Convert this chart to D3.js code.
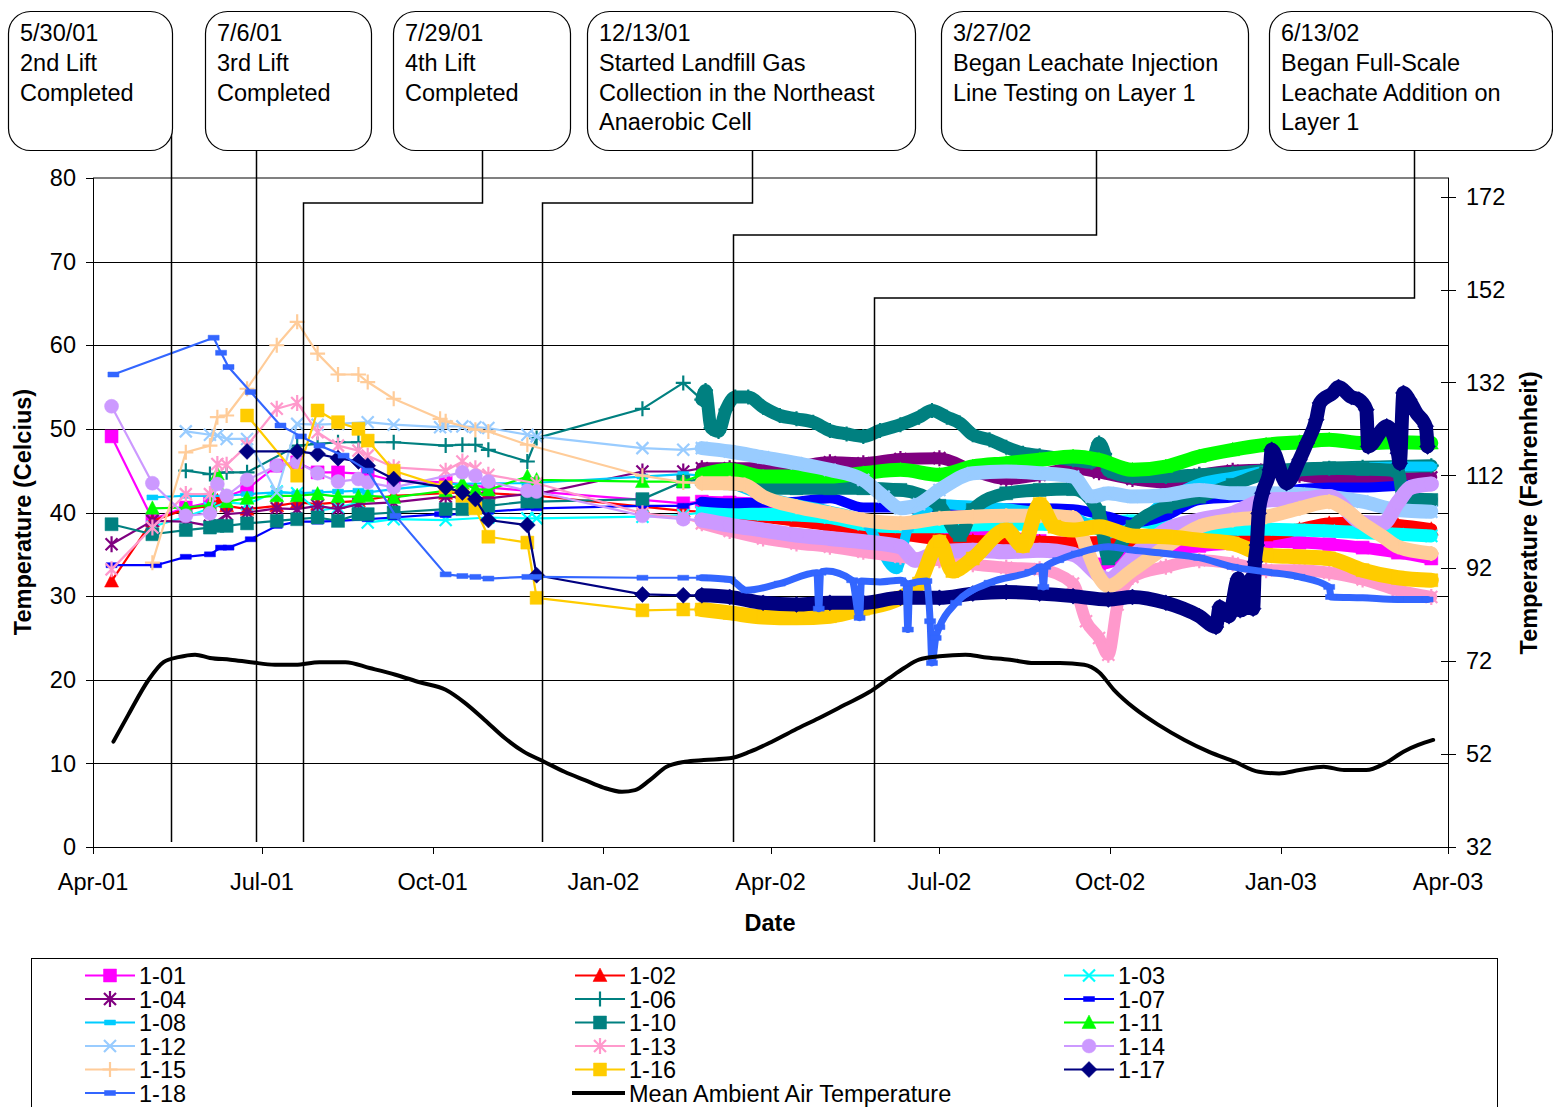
<!DOCTYPE html>
<html><head><meta charset="utf-8">
<script src="https://cdn.jsdelivr.net/npm/d3@7"></script>
<style>
body{margin:0;background:#fff;}
svg{display:block;font-family:"Liberation Sans",Arial,sans-serif;}
</style></head><body>
<svg id="chart" width="1553" height="1107"></svg>
<script>
// ---------------- DATA ----------------
const seriesNames = ["1-01","1-02","1-03","1-04","1-06","1-07","1-08","1-10","1-11","1-12","1-13","1-14","1-15","1-16","1-17","1-18"];
const ambientName = "Mean Ambient Air Temperature";
const xTickLabels = ["2001-04-01","2001-07-01","2001-10-01","2002-01-01","2002-04-01","2002-07-01","2002-10-01","2003-01-01","2003-04-01"];
const yTicksC = [0,10,20,30,40,50,60,70,80];
const yTicksF = [32,52,72,92,112,132,152,172];

const s101 = [["2001-04-11",49.1],["2001-05-03",39.2],["2001-05-21",40.6],["2001-06-03",41.2],["2001-06-23",42.8],["2001-07-09",45.6],["2001-07-20",46.0],["2001-07-31",44.8],["2001-08-11",44.8],["2001-08-27",44.6],["2001-09-10",43.8],["2001-10-08",43.6],["2001-10-31",43.0],["2001-11-26",42.5],["2002-01-22",41.5],["2002-02-13",41.1],
["2002-02-23",41.3],["2002-03-10",41.2],["2002-03-28",41.0],["2002-04-15",40.2],["2002-05-03",39.2],["2002-05-21",38.6],["2002-06-10",38.2],["2002-07-01",37.8],["2002-07-19",37.4],["2002-08-06",37.0],["2002-08-24",36.6],["2002-09-11",35.2],["2002-09-25",33.8],["2002-10-13",35.0],["2002-10-31",35.5],["2002-11-18",36.0],["2002-12-06",36.3],["2002-12-24",36.5],["2003-01-11",36.4],["2003-01-27",36.2],["2003-02-14",35.8],["2003-03-05",35.2],["2003-03-23",34.5]];
const s102 = [["2001-04-11",31.8],["2001-05-03",39.0],["2001-05-21",40.4],["2001-06-03",40.8],["2001-06-07",41.4],["2001-06-12",40.8],["2001-06-23",40.4],["2001-07-09",40.8],["2001-07-20",41.2],["2001-07-31",41.0],["2001-08-11",41.2],["2001-08-22",41.4],["2001-09-10",42.0],["2001-10-08",42.3],["2001-10-17",42.4],["2001-10-31",42.3],["2001-11-26",42.0],["2002-01-22",40.7],["2002-02-13",40.2],
["2002-02-23",40.1],["2002-03-10",39.8],["2002-03-28",39.5],["2002-04-15",39.0],["2002-05-03",38.5],["2002-05-21",38.0],["2002-06-10",37.4],["2002-07-01",36.8],["2002-07-19",36.6],["2002-08-06",36.5],["2002-08-24",36.5],["2002-09-11",36.4],["2002-09-30",36.5],["2002-10-31",36.8],["2002-11-18",37.0],["2002-12-06",37.2],["2002-12-24",37.3],["2003-01-11",38.0],["2003-01-27",38.7],["2003-02-14",38.8],["2003-03-05",38.5],["2003-03-23",38.0]];
const s103 = [["2001-05-03",38.3],["2001-05-21",39.5],["2001-06-03",40.5],["2001-06-12",41.2],["2001-06-23",41.0],["2001-07-09",42.5],["2001-07-20",42.3],["2001-07-31",40.2],["2001-08-11",40.6],["2001-08-22",41.2],["2001-08-27",38.8],["2001-09-10",39.2],["2001-10-08",39.1],["2001-10-31",39.4],["2001-11-21",39.3],["2001-11-26",39.3],["2002-01-22",39.5],["2002-02-13",39.7],
["2002-02-23",40.0],["2002-03-10",40.0],["2002-03-28",39.8],["2002-04-15",39.7],["2002-05-03",39.4],["2002-05-21",38.6],["2002-06-10",38.3],["2002-07-01",38.3],["2002-07-19",38.5],["2002-08-06",38.6],["2002-08-24",38.6],["2002-09-11",38.5],["2002-09-30",38.8],["2002-10-13",39.0],["2002-10-31",38.5],["2002-11-18",38.2],["2002-12-06",38.0],["2002-12-24",38.0],["2003-01-11",37.9],["2003-01-27",37.8],["2003-02-14",37.6],["2003-03-05",37.4],["2003-03-23",37.2]];
const s104 = [["2001-04-11",36.2],["2001-05-03",39.0],["2001-05-21",38.9],["2001-06-03",38.4],["2001-06-12",39.8],["2001-06-23",40.0],["2001-07-09",40.5],["2001-07-20",40.4],["2001-07-31",40.8],["2001-08-11",40.4],["2001-08-22",41.0],["2001-09-10",41.2],["2001-10-08",41.9],["2001-10-31",41.7],["2001-11-21",42.2],["2001-11-26",42.2],["2002-01-22",44.9],["2002-02-13",44.9],
["2002-02-23",45.3],["2002-03-10",45.3],["2002-03-28",45.3],["2002-04-15",45.5],["2002-05-03",46.0],["2002-05-21",45.9],["2002-06-10",46.4],["2002-07-01",46.5],["2002-07-19",45.0],["2002-08-06",44.0],["2002-08-24",44.5],["2002-09-11",45.3],["2002-09-25",44.8],["2002-10-13",44.0],["2002-10-31",43.6],["2002-11-18",44.5],["2002-12-06",45.0],["2002-12-24",45.1],["2003-01-11",44.5],["2003-01-27",44.0],["2003-02-14",43.8],["2003-03-05",44.0],["2003-03-23",44.2]];
const s106 = [["2001-05-21",45.0],["2001-06-03",44.6],["2001-06-12",44.8],["2001-06-23",44.8],["2001-07-20",48.0],["2001-07-31",48.2],["2001-08-11",48.4],["2001-08-22",48.4],["2001-09-10",48.4],["2001-10-08",48.0],["2001-10-17",48.1],["2001-10-24",48.1],["2001-10-31",47.5],["2001-11-21",46.1],["2001-11-26",48.9],["2002-01-22",52.4],["2002-02-13",55.5],
["2002-02-23",53.5],["2002-02-25",54.6],["2002-02-28",50.1],["2002-03-04",49.7],["2002-03-08",52.3],["2002-03-13",53.8],["2002-03-20",53.8],["2002-03-28",52.6],["2002-04-06",51.6],["2002-04-15",51.2],["2002-04-24",50.8],["2002-05-03",49.8],["2002-05-12",49.4],["2002-05-21",49.1],["2002-05-30",49.8],["2002-06-10",50.5],["2002-06-20",51.4],["2002-06-27",52.2],["2002-07-05",51.4],["2002-07-12",50.7],["2002-07-19",49.3],["2002-07-28",48.7],["2002-08-06",47.8],["2002-08-15",47.1],["2002-08-24",46.8],["2002-09-11",46.3],["2002-09-21",46.0],["2002-09-25",48.3],["2002-09-28",47.0],["2002-09-30",45.0],["2002-10-13",44.3],["2002-10-31",44.3],["2002-11-18",44.5],["2002-12-06",44.7],["2002-12-24",45.0],["2003-01-11",45.1],["2003-01-27",45.3],["2003-02-14",45.4],["2003-03-05",45.5],["2003-03-23",45.6]];
const s107 = [["2001-04-11",33.7],["2001-05-05",33.7],["2001-05-21",34.7],["2001-06-03",35.0],["2001-06-09",35.8],["2001-06-13",35.8],["2001-06-25",36.8],["2001-07-09",38.4],["2001-07-20",38.9],["2001-07-31",38.9],["2001-08-11",39.0],["2001-08-27",39.2],["2001-09-10",39.4],["2001-10-05",39.8],["2001-10-08",39.7],["2001-10-31",40.1],["2001-11-26",40.5],["2002-01-22",40.8],["2002-02-13",40.8],
["2002-02-23",41.3],["2002-03-10",41.1],["2002-03-28",41.2],["2002-04-15",41.3],["2002-05-03",41.7],["2002-05-21",40.6],["2002-06-10",40.6],["2002-07-01",40.7],["2002-07-19",40.5],["2002-08-06",40.5],["2002-08-24",40.5],["2002-09-11",40.4],["2002-09-30",39.5],["2002-10-13",38.8],["2002-10-31",39.6],["2002-11-18",41.5],["2002-12-06",41.8],["2002-12-24",42.2],["2003-01-11",42.8],["2003-01-27",43.0],["2003-02-14",43.0],["2003-03-05",43.2],["2003-03-23",43.5]];
const s108 = [["2001-05-03",41.8],["2001-05-21",42.0],["2001-06-03",42.0],["2001-06-12",42.0],["2001-06-23",42.2],["2001-07-09",42.4],["2001-07-20",42.3],["2001-07-31",42.4],["2001-08-11",42.5],["2001-08-22",42.6],["2001-08-27",42.4],["2001-09-10",42.8],["2001-10-08",43.4],["2001-10-31",43.5],["2001-11-21",43.5],["2002-01-22",44.3],["2002-02-13",44.6],
["2002-02-23",44.4],["2002-03-10",43.5],["2002-03-28",42.0],["2002-04-15",41.0],["2002-05-03",40.2],["2002-05-21",39.0],["2002-06-08",33.2],["2002-06-14",38.0],["2002-07-01",41.0],["2002-07-19",40.8],["2002-08-06",40.5],["2002-08-24",40.0],["2002-09-11",39.5],["2002-09-30",37.5],["2002-10-13",38.3],["2002-10-31",41.5],["2002-11-18",43.5],["2002-12-06",44.3],["2002-12-24",45.0],["2003-01-11",45.2],["2003-01-27",45.3],["2003-02-14",45.4],["2003-03-05",45.5],["2003-03-23",45.5]];
const s110 = [["2001-04-11",38.6],["2001-05-03",37.4],["2001-05-21",37.9],["2001-06-03",38.2],["2001-06-07",38.4],["2001-06-12",38.4],["2001-06-23",38.7],["2001-07-09",39.0],["2001-07-20",39.2],["2001-07-31",39.4],["2001-08-11",39.0],["2001-08-22",39.8],["2001-08-27",39.8],["2001-09-10",40.0],["2001-10-08",40.4],["2001-10-17",40.4],["2001-10-31",40.8],["2001-11-21",41.3],["2001-11-26",41.3],["2002-01-22",41.6],["2002-02-13",43.7],
["2002-02-23",44.0],["2002-03-10",43.5],["2002-03-28",43.0],["2002-04-15",42.9],["2002-05-03",42.9],["2002-05-21",42.9],["2002-06-10",42.7],["2002-07-01",40.8],["2002-07-12",37.3],["2002-07-19",40.3],["2002-08-06",42.3],["2002-08-24",42.7],["2002-09-11",42.8],["2002-09-25",40.0],["2002-09-30",34.5],["2002-10-13",38.3],["2002-10-31",40.7],["2002-11-18",41.9],["2002-12-06",43.3],["2002-12-24",44.7],["2003-01-11",45.2],["2003-01-27",45.3],["2003-02-14",45.2],["2003-03-05",45.0],["2003-03-08",41.8],["2003-03-23",41.5]];
const s111 = [["2001-05-03",40.5],["2001-05-21",40.6],["2001-06-03",40.9],["2001-06-07",44.6],["2001-06-12",41.3],["2001-06-23",41.7],["2001-07-09",42.0],["2001-07-20",42.0],["2001-07-31",42.2],["2001-08-11",41.9],["2001-08-22",41.9],["2001-08-27",42.0],["2001-09-10",41.8],["2001-10-08",42.6],["2001-10-17",43.5],["2001-10-24",42.8],["2001-10-31",42.7],["2001-11-21",44.3],["2001-11-26",43.9],["2002-01-22",43.7],["2002-02-13",43.7],
["2002-02-23",44.5],["2002-03-10",45.1],["2002-03-28",44.3],["2002-04-15",44.3],["2002-05-03",44.3],["2002-05-21",44.7],["2002-06-10",45.1],["2002-07-01",44.5],["2002-07-19",45.5],["2002-08-06",45.9],["2002-08-24",46.3],["2002-09-11",46.7],["2002-09-25",46.3],["2002-10-13",45.1],["2002-10-31",45.5],["2002-11-18",46.7],["2002-12-06",47.5],["2002-12-24",48.1],["2003-01-11",48.4],["2003-01-27",48.7],["2003-02-14",48.3],["2003-03-05",48.4],["2003-03-23",48.3]];
const s112 = [["2001-05-21",49.7],["2001-06-03",49.3],["2001-06-07",49.2],["2001-06-12",48.8],["2001-06-23",48.8],["2001-07-09",42.4],["2001-07-20",50.6],["2001-07-31",50.5],["2001-08-11",50.6],["2001-08-27",50.8],["2001-09-10",50.5],["2001-10-05",50.2],["2001-10-08",50.3],["2001-10-17",50.3],["2001-10-24",50.2],["2001-10-31",50.1],["2001-11-21",49.3],["2001-11-26",49.1],["2002-01-22",47.7],["2002-02-13",47.5],
["2002-02-23",47.7],["2002-03-10",47.3],["2002-03-28",46.6],["2002-04-15",45.9],["2002-05-03",45.1],["2002-05-21",43.9],["2002-06-01",41.9],["2002-06-10",40.5],["2002-06-20",41.0],["2002-07-01",42.7],["2002-07-19",44.7],["2002-08-06",44.9],["2002-08-24",44.7],["2002-09-11",44.3],["2002-09-21",41.9],["2002-09-30",42.3],["2002-10-13",41.9],["2002-10-31",42.1],["2002-11-18",42.7],["2002-12-06",42.3],["2002-12-24",42.3],["2003-01-11",42.2],["2003-01-27",41.9],["2003-02-14",41.3],["2003-03-05",40.3],["2003-03-23",40.1]];
const s113 = [["2001-04-11",33.2],["2001-05-03",38.2],["2001-05-21",42.2],["2001-06-03",42.2],["2001-06-07",45.8],["2001-06-12",45.7],["2001-06-23",48.0],["2001-07-09",52.4],["2001-07-20",53.1],["2001-07-31",49.6],["2001-08-11",48.0],["2001-08-22",47.4],["2001-08-27",46.8],["2001-09-10",45.4],["2001-10-08",45.0],["2001-10-17",46.1],["2001-10-24",45.3],["2001-10-31",44.5],["2001-11-26",43.5],["2002-01-22",39.9],["2002-02-13",39.4],
["2002-02-23",38.7],["2002-03-10",37.8],["2002-03-28",36.9],["2002-04-15",36.3],["2002-05-03",35.9],["2002-05-21",35.3],["2002-06-10",34.7],["2002-07-01",34.3],["2002-07-19",33.8],["2002-08-06",33.4],["2002-08-24",33.2],["2002-09-11",31.5],["2002-09-18",27.0],["2002-09-25",25.0],["2002-09-30",23.0],["2002-10-05",29.0],["2002-10-13",32.3],["2002-10-31",33.5],["2002-11-18",34.3],["2002-12-06",33.9],["2002-12-24",33.1],["2003-01-11",33.1],["2003-01-27",32.8],["2003-02-14",32.0],["2003-03-05",30.7],["2003-03-23",29.9]];
const s114 = [["2001-04-11",52.7],["2001-05-03",43.5],["2001-05-21",39.6],["2001-06-03",39.9],["2001-06-07",43.4],["2001-06-12",42.0],["2001-06-23",43.9],["2001-07-09",45.6],["2001-07-20",46.0],["2001-07-31",44.7],["2001-08-11",43.7],["2001-08-22",44.0],["2001-08-27",43.6],["2001-09-10",43.0],["2001-10-17",44.8],["2001-10-24",44.4],["2001-10-31",43.7],["2001-11-21",42.6],["2001-11-26",42.5],["2002-01-22",39.6],["2002-02-13",39.2],
["2002-02-23",39.1],["2002-03-10",38.5],["2002-03-28",37.9],["2002-04-15",37.3],["2002-05-03",36.9],["2002-05-21",36.5],["2002-06-10",35.9],["2002-06-18",34.3],["2002-07-01",35.3],["2002-07-19",35.5],["2002-08-06",35.3],["2002-08-24",35.5],["2002-09-11",35.0],["2002-09-30",32.0],["2002-10-13",34.7],["2002-10-31",37.9],["2002-11-18",39.1],["2002-12-06",39.9],["2002-12-24",41.5],["2003-01-11",41.6],["2003-01-27",41.9],["2003-02-14",38.8],["2003-02-25",38.7],["2003-03-05",41.2],["2003-03-12",43.0],["2003-03-23",43.4]];
const s115 = [["2001-05-03",34.0],["2001-05-21",47.2],["2001-06-03",48.0],["2001-06-07",51.4],["2001-06-12",51.6],["2001-06-23",54.8],["2001-07-09",60.0],["2001-07-20",62.8],["2001-07-31",59.0],["2001-08-11",56.5],["2001-08-22",56.5],["2001-08-27",55.6],["2001-09-10",53.6],["2001-10-05",51.2],["2001-10-08",50.9],["2001-10-24",49.9],["2001-10-31",49.7],["2001-11-21",48.1],["2002-01-22",44.4],["2002-02-13",43.6],
["2002-02-23",43.5],["2002-03-10",43.5],["2002-03-18",43.3],["2002-03-28",41.9],["2002-04-15",40.7],["2002-05-03",39.9],["2002-05-21",39.1],["2002-06-10",38.7],["2002-07-01",39.3],["2002-07-19",39.5],["2002-08-06",39.6],["2002-08-24",39.6],["2002-09-11",39.4],["2002-09-18",35.9],["2002-09-25",32.3],["2002-09-30",31.2],["2002-10-13",33.1],["2002-10-31",35.9],["2002-11-18",38.3],["2002-12-06",39.1],["2002-12-24",39.5],["2003-01-11",40.5],["2003-01-27",41.3],["2003-02-05",40.3],["2003-02-14",38.7],["2003-02-25",37.1],["2003-03-05",35.9],["2003-03-23",35.1]];
const s116 = [["2001-06-23",51.6],["2001-07-20",44.4],["2001-07-31",52.2],["2001-08-11",50.8],["2001-08-22",50.0],["2001-08-27",48.6],["2001-09-10",45.0],["2001-10-08",43.0],["2001-10-17",42.0],["2001-10-24",40.5],["2001-10-31",37.1],["2001-11-21",36.4],["2001-11-26",29.8],["2002-01-22",28.3],["2002-02-13",28.4],
["2002-02-23",28.4],["2002-03-10",28.0],["2002-03-28",27.5],["2002-04-15",27.4],["2002-05-03",27.6],["2002-05-21",28.5],["2002-06-10",29.8],["2002-06-20",31.5],["2002-07-01",36.5],["2002-07-08",33.0],["2002-07-19",34.5],["2002-08-06",37.9],["2002-08-15",36.0],["2002-08-24",41.0],["2002-09-01",38.3],["2002-09-11",37.9],["2002-09-25",38.3],["2002-10-13",37.2],["2002-10-31",37.1],["2002-11-18",36.7],["2002-12-06",36.3],["2002-12-24",34.9],["2003-01-11",34.7],["2003-01-27",34.5],["2003-02-14",33.1],["2003-03-05",32.2],["2003-03-23",31.9]];
const s117 = [["2001-06-23",47.3],["2001-07-20",47.3],["2001-07-31",47.0],["2001-08-11",46.5],["2001-08-22",46.1],["2001-08-27",45.6],["2001-09-10",44.0],["2001-10-08",43.0],["2001-10-17",42.4],["2001-10-24",41.6],["2001-10-31",39.1],["2001-11-21",38.5],["2001-11-26",32.5],["2002-01-22",30.2],["2002-02-13",30.1],
["2002-02-23",30.1],["2002-03-10",29.9],["2002-03-28",29.2],["2002-04-15",29.0],["2002-05-03",29.2],["2002-05-21",29.2],["2002-06-10",29.8],["2002-07-01",29.8],["2002-07-19",30.3],["2002-08-06",30.5],["2002-08-24",30.3],["2002-09-11",30.0],["2002-09-30",29.6],["2002-10-13",29.9],["2002-10-31",29.2],["2002-11-18",27.6],["2002-11-27",26.3],["2002-11-29",28.7],["2002-12-04",27.6],["2002-12-09",32.1],["2002-12-10",28.3],["2002-12-15",29.3],["2002-12-16",32.1],["2002-12-17",28.5],["2002-12-18",34.1],["2002-12-19",36.1],["2002-12-20",39.9],["2002-12-22",42.3],["2002-12-26",45.1],["2002-12-27",47.5],["2003-01-04",43.5],["2003-01-11",46.3],["2003-01-15",48.3],["2003-01-20",51.1],["2003-01-22",53.1],["2003-01-29",54.3],["2003-02-01",55.0],["2003-02-08",53.8],["2003-02-12",53.5],["2003-02-16",52.3],["2003-02-17",47.9],["2003-02-27",50.3],["2003-03-05",47.1],["2003-03-06",45.9],["2003-03-08",54.3],["2003-03-11",53.5],["2003-03-15",51.9],["2003-03-20",50.3],["2003-03-21",47.9]];
const s118 = [["2001-04-12",56.5],["2001-06-05",60.9],["2001-06-09",59.1],["2001-06-13",57.4],["2001-06-25",54.4],["2001-07-11",50.4],["2001-07-22",49.1],["2001-08-01",48.0],["2001-08-14",46.8],["2001-08-27",45.0],["2001-09-11",39.6],["2001-10-08",32.6],["2001-10-17",32.4],["2001-10-24",32.3],["2001-10-31",32.1],["2001-11-21",32.3],["2001-11-26",32.3],["2002-01-22",32.2],["2002-02-13",32.2],
["2002-02-23",32.2],["2002-03-10",32.0],["2002-03-19",30.7],["2002-04-06",31.5],["2002-04-26",32.8],["2002-04-27",28.5],["2002-04-28",32.8],["2002-05-01",33.0],["2002-05-15",31.9],["2002-05-19",27.4],["2002-05-20",31.8],["2002-05-30",31.7],["2002-06-10",31.9],["2002-06-13",31.5],["2002-06-14",26.0],["2002-06-15",31.5],["2002-06-24",31.8],["2002-06-26",27.0],["2002-06-27",22.0],["2002-06-29",25.0],["2002-07-01",26.3],["2002-07-10",29.2],["2002-07-28",31.6],["2002-08-19",32.9],["2002-08-25",33.5],["2002-08-26",31.1],["2002-08-27",33.5],["2002-09-03",34.3],["2002-09-13",35.1],["2002-09-30",35.9],["2002-10-13",35.5],["2002-10-31",35.1],["2002-11-18",34.6],["2002-12-06",33.5],["2002-12-24",32.9],["2003-01-11",32.3],["2003-01-27",31.1],["2003-01-28",29.9],["2003-02-14",29.8],["2003-03-05",29.6],["2003-03-21",29.6]];
const ambient = [["2001-04-12",12.6],["2001-04-20",15.8],["2001-05-01",20.0],["2001-05-09",22.1],["2001-05-17",22.7],["2001-05-26",23.0],["2001-06-03",22.6],["2001-06-14",22.4],["2001-06-25",22.1],["2001-07-08",21.8],["2001-07-19",21.8],["2001-08-01",22.1],["2001-08-15",22.1],["2001-08-28",21.4],["2001-09-11",20.6],["2001-09-24",19.7],["2001-10-08",18.8],["2001-10-18",17.3],["2001-10-29",15.2],["2001-11-09",13.0],["2001-11-19",11.4],["2001-11-30",10.2],["2001-12-11",9.0],["2001-12-22",8.0],["2002-01-01",7.1],["2002-01-11",6.6],["2002-01-18",6.8],["2002-01-26",8.0],["2002-02-04",9.6],["2002-02-14",10.2],["2002-02-24",10.4],["2002-03-10",10.6],["2002-03-21",11.4],["2002-03-31",12.4],["2002-04-14",14.0],["2002-04-27",15.4],["2002-05-11",17.0],["2002-05-24",18.5],["2002-06-04",20.2],["2002-06-12",21.4],["2002-06-20",22.4],["2002-07-01",22.8],["2002-07-15",23.0],["2002-07-25",22.7],["2002-08-08",22.4],["2002-08-21",22.0],["2002-09-04",22.0],["2002-09-17",21.8],["2002-09-25",20.9],["2002-10-03",18.8],["2002-10-14",16.6],["2002-10-27",14.6],["2002-11-10",12.8],["2002-11-23",11.4],["2002-12-07",10.2],["2002-12-20",9.0],["2002-12-31",8.8],["2003-01-11",9.2],["2003-01-24",9.6],["2003-02-04",9.2],["2003-02-16",9.2],["2003-02-26",10.0],["2003-03-08",11.4],["2003-03-16",12.2],["2003-03-24",12.8]];

const annotationText = [
  ["5/30/01","2nd Lift","Completed"],
  ["7/6/01","3rd Lift","Completed"],
  ["7/29/01","4th Lift","Completed"],
  ["12/13/01","Started Landfill Gas","Collection in the Northeast","Anaerobic Cell"],
  ["3/27/02","Began Leachate Injection","Line Testing on Layer 1"],
  ["6/13/02","Began Full-Scale","Leachate Addition on","Layer 1"]
];
// date where each leader line reaches the axis, as drawn in the figure
const annotationLineDates = ["2001-05-13","2001-06-28","2001-07-23","2001-11-29","2002-03-12","2002-05-27"];

// ---------------- STYLE / LAYOUT ----------------
const seriesData = [s101,s102,s103,s104,s106,s107,s108,s110,s111,s112,s113,s114,s115,s116,s117,s118];
const seriesColors = ["#FF00FF","#FF0000","#00FFFF","#800080","#008080","#0000FF","#00CCFF","#008080","#00FF00","#99CCFF","#FF99CC","#CC99FF","#FFCC99","#FFCC00","#000080","#3366FF"];
const seriesMarkers = ["square","triangle","x","star","plus","dash","dash","square","triangle","x","star","circle","plus","square","diamond","dash"];
const bandWidths = [12,12,13,12,13,10,10,13,14,14,12,15,14,15,14,7];
const annBoxes = [[8,172],[205,371],[393,570],[587,915],[941,1248],[1269,1552]];
const annStem = [{x:171,y0:100},{x:256,y0:150},{stemX:482,elbow:203},{stemX:752,elbow:203},{stemX:1096,elbow:235},{stemX:1414,elbow:298}];

const parse = d3.utcParse("%Y-%m-%d");
const m = {left:93,right:1448,top:178,bottom:847};
const FS = 23.5;
const x = d3.scaleUtc().domain([parse("2001-04-01"),parse("2003-04-01")]).range([m.left,m.right]);
const y = d3.scaleLinear().domain([0,80]).range([m.bottom,m.top]);
const yF = d3.scaleLinear().domain([32,176]).range([m.bottom,m.top]);
const denseStart = parse("2002-02-18");

const markerDefs = {
  square:{d:"M-6.5,-6.5H6.5V6.5H-6.5Z",fill:true},
  triangle:{d:"M0,-7.5L7,6L-7,6Z",fill:true},
  x:{d:"M-6,-6L6,6M-6,6L6,-6",fill:false},
  star:{d:"M-6,-6L6,6M-6,6L6,-6M0,-8L0,8",fill:false},
  plus:{d:"M-7.5,0H7.5M0,-7.5V7.5",fill:false},
  dash:{d:"M-5.5,-2.5H5.5V2.5H-5.5Z",fill:true},
  circle:{d:"M7,0A7,7 0 1,1 -7,0A7,7 0 1,1 7,0Z",fill:true},
  diamond:{d:"M0,-8L8,0L0,8L-8,0Z",fill:true}
};
function styleMarker(sel,type,color){
  const md = markerDefs[type];
  sel.attr("d",md.d)
     .attr("fill",md.fill?color:"none")
     .attr("stroke",color)
     .attr("stroke-width",md.fill?0.5:2.2);
}

const svg = d3.select("#chart");
svg.append("rect").attr("width",1553).attr("height",1107).attr("fill","#fff");

// gridlines
svg.append("g").selectAll("line").data(yTicksC.filter(v=>v>0&&v<80)).join("line")
  .attr("x1",m.left).attr("x2",m.right)
  .attr("y1",d=>Math.round(y(d))+0.5).attr("y2",d=>Math.round(y(d))+0.5)
  .attr("stroke","#000").attr("stroke-width",1);
// top border (gray)
svg.append("line").attr("x1",m.left).attr("x2",m.right+1).attr("y1",m.top).attr("y2",m.top)
  .attr("stroke","#808080").attr("stroke-width",2);

// annotation leader lines (behind data)
const annG = svg.append("g");
annotationLineDates.forEach((ds,i)=>{
  const lx = Math.round(x(parse(ds)))+0.5;
  const st = annStem[i];
  let pts;
  if(st.stemX===undefined){ pts=[[lx,st.y0],[lx,m.bottom-5]]; }
  else { pts=[[st.stemX+0.5,150],[st.stemX+0.5,st.elbow],[lx,st.elbow],[lx,m.bottom-5]]; }
  annG.append("path").attr("d",d3.line()(pts)).attr("fill","none").attr("stroke","#000").attr("stroke-width",1.5);
});

// series
const plot = svg.append("g");
const lineGen = d3.line().x(d=>x(d.date)).y(d=>y(d.v));
const bandGen = d3.line().x(d=>x(d.date)).y(d=>y(d.v)).curve(d3.curveMonotoneX);
seriesData.forEach((data,i)=>{
  const pts = data.map(d=>({date:parse(d[0]),v:d[1]}));
  const col = seriesColors[i];
  const g = plot.append("g");
  g.append("path").attr("d",lineGen(pts)).attr("fill","none").attr("stroke",col).attr("stroke-width",2.2).attr("stroke-linejoin","round");
  const dense = pts.filter(p=>p.date>=denseStart);
  if(dense.length>1){
    g.append("path").attr("d",bandGen(dense)).attr("fill","none").attr("stroke",col)
      .attr("stroke-width",bandWidths[i]).attr("stroke-linejoin","round").attr("stroke-linecap","round");
  }
  g.selectAll("path.mk").data(pts).join("path").attr("class","mk")
    .attr("transform",d=>`translate(${x(d.date)},${y(d.v)})`)
    .call(styleMarker,seriesMarkers[i],col);
});
// ambient
plot.append("path").attr("d",d3.line().x(d=>x(parse(d[0]))).y(d=>y(d[1])).curve(d3.curveMonotoneX)(ambient))
  .attr("fill","none").attr("stroke","#000").attr("stroke-width",4).attr("stroke-linecap","round");

// axes
const axG = svg.append("g").attr("font-size",FS).attr("fill","#000");
axG.append("line").attr("x1",m.left+0.5).attr("x2",m.left+0.5).attr("y1",m.top).attr("y2",m.bottom).attr("stroke","#000");
yTicksC.forEach(v=>{
  const yy = Math.round(y(v))+0.5;
  axG.append("line").attr("x1",m.left-7).attr("x2",m.left).attr("y1",yy).attr("y2",yy).attr("stroke","#000");
  axG.append("text").attr("x",m.left-17).attr("y",y(v)).attr("dy","0.35em").attr("text-anchor","end").text(v);
});
axG.append("line").attr("x1",m.right+0.5).attr("x2",m.right+0.5).attr("y1",m.top).attr("y2",m.bottom).attr("stroke","#000");
yTicksF.forEach(v=>{
  const yy = Math.round(yF(v))+0.5;
  axG.append("line").attr("x1",m.right-7).attr("x2",m.right+8).attr("y1",yy).attr("y2",yy).attr("stroke","#000");
  axG.append("text").attr("x",m.right+18).attr("y",yF(v)).attr("dy","0.35em").attr("text-anchor","start").text(v);
});
axG.append("line").attr("x1",m.left).attr("x2",m.right).attr("y1",m.bottom+0.5).attr("y2",m.bottom+0.5).attr("stroke","#000");
const fmt = d3.utcFormat("%b-%y");
xTickLabels.forEach(ds=>{
  const d = parse(ds); const xx = Math.round(x(d))+0.5;
  axG.append("line").attr("x1",xx).attr("x2",xx).attr("y1",m.bottom).attr("y2",m.bottom+7).attr("stroke","#000");
  axG.append("text").attr("x",x(d)).attr("y",890).attr("text-anchor","middle").text(fmt(d));
});
// titles
svg.append("text").attr("x",770).attr("y",931).attr("text-anchor","middle").attr("font-size",FS).attr("font-weight","bold").text("Date");
svg.append("text").attr("transform","translate(31,512) rotate(-90)").attr("text-anchor","middle").attr("font-size",FS).attr("font-weight","bold").text("Temperature (Celcius)");
svg.append("text").attr("transform","translate(1537,513) rotate(-90)").attr("text-anchor","middle").attr("font-size",FS).attr("font-weight","bold").text("Temperature (Fahrenheit)");

// annotation boxes
annotationText.forEach((lines,i)=>{
  const [x0,x1] = annBoxes[i];
  annG.append("rect").attr("x",x0+0.5).attr("y",11.5).attr("width",x1-x0).attr("height",139).attr("rx",22).attr("ry",22)
    .attr("fill","#fff").attr("stroke","#000").attr("stroke-width",1.2);
  lines.forEach((t,j)=>{
    annG.append("text").attr("x",x0+12).attr("y",41+j*29.8).attr("font-size",FS).text(t);
  });
});
svg.node().appendChild(annG.node());

// legend
const lg = svg.append("g");
lg.append("rect").attr("x",31.5).attr("y",958.5).attr("width",1466).attr("height",170).attr("fill","#fff").attr("stroke","#000").attr("stroke-width",1);
const colX = [85,575,1064];
const legendItems = seriesNames.map((n,i)=>({name:n,color:seriesColors[i],marker:seriesMarkers[i]}));
legendItems.push({name:ambientName,color:"#000",marker:null});
legendItems.forEach((it,k)=>{
  const r = Math.floor(k/3), c = k%3;
  const base = 984 + r*23.5; const cy = base-8.5; const lx = colX[c];
  const gi = lg.append("g");
  if(it.marker){
    gi.append("line").attr("x1",lx).attr("x2",lx+50).attr("y1",cy).attr("y2",cy).attr("stroke",it.color).attr("stroke-width",2.2);
    gi.append("path").attr("transform",`translate(${lx+25},${cy})`).call(styleMarker,it.marker,it.color);
  } else {
    gi.append("line").attr("x1",lx-3).attr("x2",lx+50).attr("y1",cy).attr("y2",cy).attr("stroke","#000").attr("stroke-width",4);
  }
  gi.append("text").attr("x",lx+54).attr("y",base).attr("font-size",FS).text(it.name);
});
</script>
</body></html>
